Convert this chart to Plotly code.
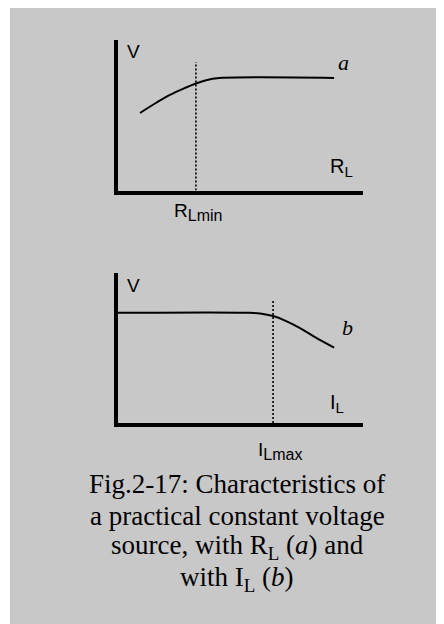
import plotly.graph_objects as go

# curve (a): terminal voltage vs load resistance
rl_vals = [0.9, 1.51, 2.12, 2.73, 3.18, 3.63, 4.04, 8.82]
va_vals = [5.15, 5.78, 6.35, 6.81, 7.11, 7.34, 7.46, 7.48]
rl_min = 3.18
va_at_min = 8.54

# curve (b): terminal voltage vs load current
il_vals = [0.0, 5.39, 5.8, 6.33, 6.82, 7.43, 8.04, 8.82]
vb_vals = [7.35, 7.35, 7.3, 7.13, 6.83, 6.33, 5.73, 5.03]
il_max = 6.33
vb_at_max = 8.2

caption_lines = [
    "Fig.2-17: Characteristics of",
    "a practical constant voltage",
    "source, with R<sub>L</sub> (<i>a</i>) and",
    "with I<sub>L</sub> (<i>b</i>)",
]

# page body has an 8px margin, so the figure is a bit smaller and positions are page px - 8
OFF = 8
W, H = 444 - OFF, 624 - OFF
BG = "rgb(200,200,200)"
SANS = "Liberation Sans, Arial, sans-serif"
SERIF = "Liberation Serif, Times New Roman, serif"


def px(x):
    return (x - OFF) / W


def py(y):
    return 1 - (y - OFF) / H


fig = go.Figure()

fig.add_trace(go.Scatter(x=rl_vals, y=va_vals, mode="lines", line=dict(color="black", width=2, shape="spline"),
                         xaxis="x", yaxis="y", showlegend=False, hoverinfo="skip"))
fig.add_trace(go.Scatter(x=[rl_min, rl_min], y=[0, va_at_min], mode="lines",
                         line=dict(color="black", width=1.6, dash="2px,2px"),
                         xaxis="x", yaxis="y", showlegend=False, hoverinfo="skip"))

fig.add_trace(go.Scatter(x=il_vals, y=vb_vals, mode="lines", line=dict(color="black", width=2, shape="spline"),
                         xaxis="x2", yaxis="y2", showlegend=False, hoverinfo="skip"))
fig.add_trace(go.Scatter(x=[il_max, il_max], y=[0, vb_at_max], mode="lines",
                         line=dict(color="black", width=1.6, dash="2px,2px"),
                         xaxis="x2", yaxis="y2", showlegend=False, hoverinfo="skip"))

ax = dict(range=[0, 10], showline=True, linecolor="black", linewidth=4, showgrid=False,
          zeroline=False, showticklabels=False, ticks="", fixedrange=True)

fig.update_layout(
    width=W, height=H,
    margin=dict(l=0, r=0, t=0, b=0),
    paper_bgcolor="white",
    plot_bgcolor="rgba(0,0,0,0)",
    xaxis=dict(ax, domain=[px(118), px(363)], anchor="y"),
    yaxis=dict(ax, domain=[py(190.5), py(40)], anchor="x"),
    xaxis2=dict(ax, domain=[px(118), px(363)], anchor="y2"),
    yaxis2=dict(ax, domain=[py(423), py(273)], anchor="x2"),
    shapes=[dict(type="rect", xref="paper", yref="paper", x0=px(10), x1=1, y0=0, y1=1,
                 fillcolor=BG, line=dict(width=0), layer="below")],
)


def label(text, x, y, size, family=SANS):
    fig.add_annotation(text=text, x=px(x), y=py(y), xref="paper", yref="paper",
                       showarrow=False, xanchor="center", yanchor="middle",
                       font=dict(family=family, size=size, color="black"))


def sub(s, size):
    return '<sub><span style="font-size:%dpx">%s</span></sub>' % (size, s)


label("V", 133, 52, 19)
label("<i>a</i>", 343, 62, 22, SERIF)
label("R" + sub("L", 15), 341, 167, 20)
label("R" + sub("Lmin", 16), 198, 212, 19)

label("V", 133, 285, 19)
label("<i>b</i>", 347, 327, 22, SERIF)
label("I" + sub("L", 15), 337, 403, 20)
label("I" + sub("Lmax", 16), 280, 451, 19)

for i, line in enumerate(caption_lines):
    label(line, 237, 484 + i * 31.7, 27, SERIF)

fig.write_html("out.html")
